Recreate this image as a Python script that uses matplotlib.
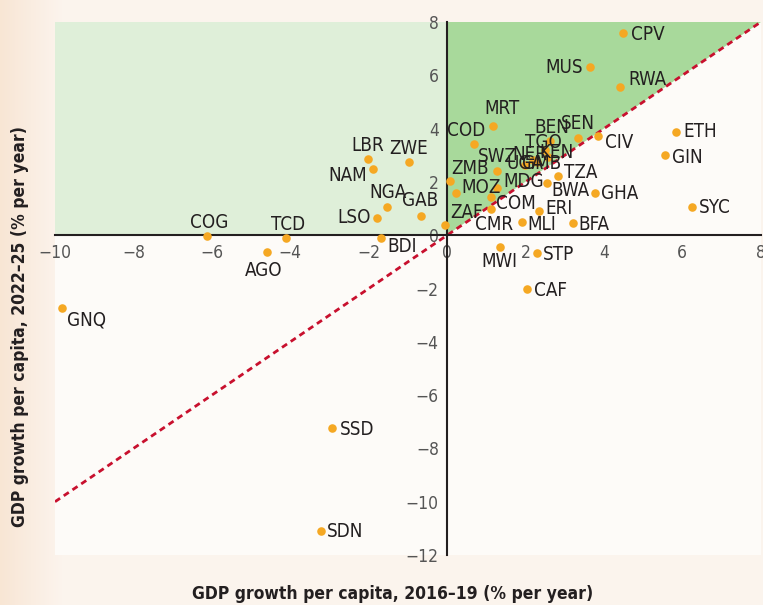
import numpy as np
import matplotlib.pyplot as plt
from matplotlib import font_manager

# buscar una fuente estrecha (condensed / narrow) entre las instaladas
def buscar_fuente(peso):
    cands = []
    for f in font_manager.fontManager.ttflist:
        ruta = str(f.fname)
        nombre = f.name + ' ' + ruta
        estrecha = ('Condensed' in nombre or 'Narrow' in nombre or
                    str(f.stretch) in ('condensed', 'semi-condensed', 'extra-condensed'))
        if not estrecha or f.style != 'normal':
            continue
        if 'Ultra' in nombre or 'Italic' in nombre:
            continue
        w = f.weight if isinstance(f.weight, int) else {'normal': 400, 'regular': 400, 'bold': 700}.get(f.weight, 400)
        if w != peso:
            continue
        # preferir condensada pura, luego semi, luego extra
        if 'Semi' in nombre or f.stretch == 'semi-condensed':
            rango = 1
        elif 'Extra' in nombre or f.stretch == 'extra-condensed':
            rango = 2
        else:
            rango = 0
        cands.append((rango, ruta))
    cands.sort()
    if cands:
        return font_manager.FontProperties(fname=cands[0][1])
    return font_manager.FontProperties(family='Liberation Sans',
                                       weight='bold' if peso == 700 else 'normal')

fp = buscar_fuente(400)
fpb = buscar_fuente(700)

paises = ['CPV', 'MUS', 'RWA', 'MRT', 'COD', 'SEN', 'CIV', 'BEN', 'TGO', 'NER',
          'KEN', 'UGA', 'GMB', 'ETH', 'GIN', 'SYC', 'GHA', 'TZA', 'BWA', 'ERI',
          'BFA', 'MLI', 'CMR', 'COM', 'MDG', 'MOZ', 'SWZ', 'ZMB', 'ZAF', 'MWI',
          'STP', 'CAF', 'SSD', 'SDN', 'GNQ', 'COG', 'TCD', 'AGO', 'BDI', 'LSO',
          'GAB', 'NGA', 'NAM', 'LBR', 'ZWE']
crec_2016_19 = [4.49, 3.65, 4.41, 1.17, 0.69, 3.34, 3.86, 2.63, 2.50, 2.19,
                2.58, 1.99, 2.30, 5.84, 5.56, 6.25, 3.76, 2.84, 2.55, 2.35,
                3.22, 1.91, 1.12, 1.12, 1.28, 0.23, 1.28, 0.08, -0.05, 1.35,
                2.30, 2.04, -2.93, -3.21, -9.82, -6.12, -4.11, -4.60, -1.68, -1.79,
                -0.66, -1.53, -1.90, -2.01, -0.97]
crec_2022_25 = [7.58, 6.31, 5.56, 4.09, 3.42, 3.65, 3.72, 3.53, 3.20, 2.82,
                2.93, 2.63, 2.74, 3.88, 3.01, 1.06, 1.57, 2.22, 1.95, 0.90,
                0.46, 0.50, 0.98, 1.43, 1.77, 1.59, 2.42, 2.04, 0.38, -0.43,
                -0.67, -2.03, -7.24, -11.10, -2.74, -0.03, -0.11, -0.63, -0.10, 0.65,
                0.72, 1.06, 2.48, 2.86, 2.74]

# desplazamiento de etiquetas (pixeles) y alineacion
offsets = {
    'CPV': (8, -1, 'left'), 'MUS': (-7, 0, 'right'), 'RWA': (8, 8, 'left'),
    'MRT': (9, 18, 'center'), 'COD': (-8, 14, 'center'), 'SEN': (0, 14, 'center'),
    'CIV': (7, -6, 'left'), 'BEN': (2, 14, 'center'), 'TGO': (-2, 7, 'center'),
    'NER': (-3, 6, 'center'), 'KEN': (8, 5, 'center'), 'UGA': (0, 2, 'center'),
    'GMB': (4, -1, 'center'), 'ETH': (7, 0, 'left'), 'GIN': (7, -2, 'left'),
    'SYC': (7, -1, 'left'), 'GHA': (6, 0, 'left'), 'TZA': (6, 4, 'left'),
    'BWA': (4, -7, 'left'), 'ERI': (6, 3, 'left'), 'BFA': (5, -2, 'left'),
    'MLI': (5, -3, 'left'), 'CMR': (3, -15, 'center'), 'COM': (5, -6, 'left'),
    'MDG': (6, 7, 'left'), 'MOZ': (5, 5, 'left'), 'SWZ': (0, 14, 'center'),
    'ZMB': (1, 12, 'left'), 'ZAF': (5, 13, 'left'), 'MWI': (-1, -15, 'center'),
    'STP': (6, -1, 'left'), 'CAF': (7, -1, 'left'), 'SSD': (8, -1, 'left'),
    'SDN': (6, 0, 'left'), 'GNQ': (5, -12, 'left'), 'COG': (2, 14, 'center'),
    'TCD': (2, 14, 'center'), 'AGO': (-3, -18, 'center'), 'BDI': (6, -9, 'left'),
    'LSO': (-6, 0, 'right'), 'GAB': (-1, 16, 'center'), 'NGA': (1, 14, 'center'),
    'NAM': (-6, -6, 'right'), 'LBR': (-1, 14, 'center'), 'ZWE': (0, 14, 'center'),
}

fig = plt.figure(figsize=(7.63, 6.05), dpi=100)

# fondo con degradado
fondo = fig.add_axes([0, 0, 1, 1], zorder=-10)
grad = np.linspace(0, 1, 300)
perfil = np.clip(grad / 0.08, 0, 1)
c1 = np.array([0.973, 0.902, 0.835])
c2 = np.array([0.988, 0.957, 0.930])
img = c1[None, :] * (1 - perfil[:, None]) + c2[None, :] * perfil[:, None]
fondo.imshow(img[None, :, :], aspect='auto', extent=[0, 1, 0, 1])
fondo.axis('off')

ax = fig.add_axes([0.0721, 0.0826, 0.925, 0.881])
ax.set_facecolor('#fdfbf8')
ax.set_xlim(-10, 8)
ax.set_ylim(-12, 8)

ax.fill_between([-10, 0], 0, 8, color='#dfefd9', zorder=0, lw=0)
ax.fill([0, 0, 8], [0, 8, 8], color='#a8d99b', zorder=0, lw=0)
ax.plot([-10, 8], [-10, 8], color='#c8102e', lw=2, dashes=(2.2, 1.6), zorder=1)

ax.scatter(crec_2016_19, crec_2022_25, s=38, color='#f5a823', zorder=3, lw=0)
for p, x, y in zip(paises, crec_2016_19, crec_2022_25):
    dx, dy, ha = offsets[p]
    ax.annotate(p, (x, y), xytext=(dx, dy), textcoords='offset pixels',
                ha=ha, va='center', fontproperties=fp, fontsize=13.5,
                color='#231f20', zorder=4)

ax.spines['left'].set_position(('data', 0))
ax.spines['bottom'].set_position(('data', 0))
ax.spines['top'].set_visible(False)
ax.spines['right'].set_visible(False)
for s in ['left', 'bottom']:
    ax.spines[s].set_color('#231f20')
    ax.spines[s].set_linewidth(1.5)
    ax.spines[s].set_zorder(2)

ax.set_xticks(np.arange(-10, 9, 2))
ax.set_yticks(np.arange(-12, 9, 2))
ax.tick_params(length=0, labelcolor='#555555', pad=6)
for lab in ax.get_xticklabels() + ax.get_yticklabels():
    lab.set_fontproperties(fp)
    lab.set_fontsize(12.5)

fig.text(0.514, 0.018, 'GDP growth per capita, 2016\u201319 (% per year)',
         ha='center', va='center', fontproperties=fpb, fontsize=12.5,
         color='#231f20')
fig.text(0.026, 0.46, 'GDP growth per capita, 2022\u201325 (% per year)',
         ha='center', va='center', rotation=90, fontproperties=fpb, fontsize=12.5,
         color='#231f20')

fig.savefig('out.png', dpi=100, facecolor='#fcf4ee')
